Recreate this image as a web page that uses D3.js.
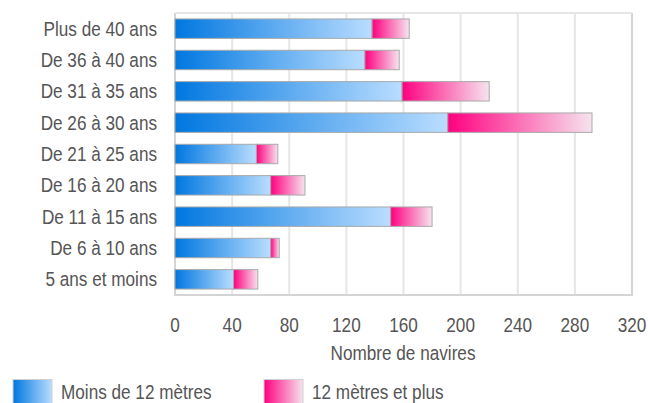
<!DOCTYPE html>
<html><head><meta charset="utf-8">
<script src="https://cdn.jsdelivr.net/npm/d3@7"></script>
<style>
html,body{margin:0;padding:0;background:#fff;}
svg text{font-family:"Liberation Sans",Arial,sans-serif;fill:#555;}
</style></head>
<body>
<svg id="chart" width="648" height="403"></svg>
<script>
const categories = ["Plus de 40 ans","De 36 à 40 ans","De 31 à 35 ans","De 26 à 30 ans","De 21 à 25 ans","De 16 à 20 ans","De 11 à 15 ans","De 6 à 10 ans","5 ans et moins"];
const seriesNames = ["Moins de 12 mètres","12 mètres et plus"];
const moins12 = [138,133,159,191,57,67,151,67,41];
const plus12 = [26,24,61,101,15,24,29,6,17];
const xTicks = [0,40,80,120,160,200,240,280,320];
const xTitle = "Nombre de navires";

const FS = 19.5, SX = 0.88;
const svg = d3.select("#chart");
const m = {left:175, right:632, top:13, bottom:295};
const x = d3.scaleLinear().domain([0,320]).range([m.left,m.right]);
const y = d3.scaleBand().domain(categories).range([m.top,m.bottom]).paddingInner(0.38).paddingOuter(0.19);

function label(g, px, py, anchor, txt){
  return g.append("text").attr("transform",`translate(${px},${py}) scale(${SX},1)`)
    .attr("text-anchor",anchor).attr("font-size",FS).text(txt);
}

const defs = svg.append("defs");
const gb = defs.append("linearGradient").attr("id","gBlue");
gb.append("stop").attr("offset","0%").attr("stop-color","#0077e0");
gb.append("stop").attr("offset","100%").attr("stop-color","#b9ddff");
const gp = defs.append("linearGradient").attr("id","gPink");
gp.append("stop").attr("offset","0%").attr("stop-color","#ff0080");
gp.append("stop").attr("offset","100%").attr("stop-color","#f6e4ee");
const fills = ["url(#gBlue)","url(#gPink)"];

// gridlines
svg.append("g").selectAll("line").data(xTicks).join("line")
  .attr("x1",d=>x(d)).attr("x2",d=>x(d)).attr("y1",m.top).attr("y2",m.bottom)
  .attr("stroke",d=>(d===0||d===320)?"#d4d4d4":"#e6e6e6").attr("stroke-width",2);
svg.append("line").attr("x1",m.left).attr("x2",m.right).attr("y1",m.top).attr("y2",m.top).attr("stroke","#e6e6e6").attr("stroke-width",2);
svg.append("line").attr("x1",m.left-1).attr("x2",m.right+1).attr("y1",m.bottom).attr("y2",m.bottom).attr("stroke","#d4d4d4").attr("stroke-width",2);

// bars
const stackData = categories.map((c,i)=>({cat:c,a:moins12[i],b:plus12[i]}));
const stack = d3.stack().keys(["a","b"])(stackData);
svg.append("g").selectAll("g").data(stack).join("g").attr("fill",(d,i)=>fills[i])
  .selectAll("rect").data(d=>d).join("rect")
  .attr("x",d=>x(d[0])).attr("width",d=>x(d[1])-x(d[0]))
  .attr("y",d=>y(d.data.cat)).attr("height",y.bandwidth())
  .attr("stroke","#a9a9a9").attr("stroke-width",1);

// category labels
const cg = svg.append("g");
categories.forEach(c=>label(cg,157,y(c)+y.bandwidth()/2+7,"end",c));

// tick labels
const tg = svg.append("g");
xTicks.forEach(t=>label(tg,x(t),332,"middle",t));

label(svg,403,360,"middle",xTitle);

// legend
const lx = [13,264];
seriesNames.forEach((s,i)=>{
  const g = svg.append("g").attr("transform",`translate(${lx[i]},379.5)`);
  g.append("rect").attr("width",39).attr("height",30).attr("fill",fills[i]).attr("stroke","#cfcfcf");
  label(g,48,19,"start",s);
});
</script>
</body></html>
